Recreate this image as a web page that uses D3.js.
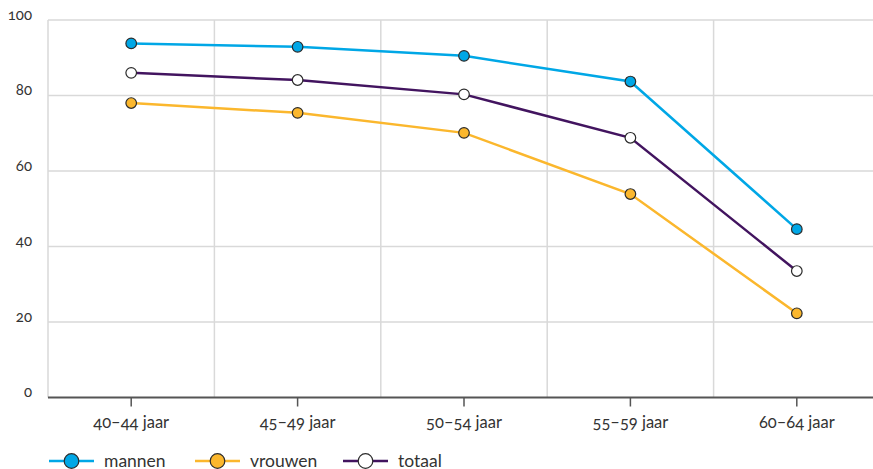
<!DOCTYPE html>
<html><head><meta charset="utf-8">
<script src="https://cdn.jsdelivr.net/npm/d3@7"></script>
<style>
body{margin:0;background:#fff;}
svg{display:block;font-family:Lato,"Open Sans",sans-serif;font-variant-numeric:oldstyle-nums;font-feature-settings:"onum" 1;}
</style></head><body>
<svg id="c" width="873" height="469"></svg>
<script>
const categories = ["40–44 jaar","45–49 jaar","50–54 jaar","55–59 jaar","60–64 jaar"];
const mannen  = [93.8, 92.9, 90.5, 83.7, 44.6];
const vrouwen = [78.0, 75.4, 70.1, 53.9, 22.3];
const totaal  = [86.0, 84.1, 80.3, 68.8, 33.5];
const yTicks = [0,20,40,60,80,100];
const seriesNames = ["mannen","vrouwen","totaal"];
const seriesColors = ["#00a7e6","#fbb72d","#42145f"];
const markerFills = ["#00a7e6","#fbb72d","#ffffff"];

const series = [mannen, vrouwen, totaal].map((v,i)=>({name:seriesNames[i],values:v,color:seriesColors[i],fill:markerFills[i]}));

const svg = d3.select("#c");
const L=48, R=880, T=20, B=397.5;
const x = d3.scaleBand().domain(categories).range([L,R]);
const y = d3.scaleLinear().domain([0,100]).range([B,T]);
const cx = d => x(d)+x.bandwidth()/2;

// horizontal grid
svg.append("g").selectAll("line").data(yTicks.filter(t=>t>0)).join("line")
  .attr("x1",L).attr("x2",873).attr("y1",d=>y(d)).attr("y2",d=>y(d))
  .attr("stroke","#d9d9d9").attr("stroke-width",1.5);
// vertical grid (band edges)
const edges = categories.map(c=>x(c));
svg.append("g").selectAll("line").data(edges).join("line")
  .attr("x1",d=>d).attr("x2",d=>d).attr("y1",T).attr("y2",B)
  .attr("stroke","#d9d9d9").attr("stroke-width",1.5);

// y labels
svg.append("g").selectAll("text").data(yTicks).join("text")
  .attr("x",32).attr("y",d=>y(d)-0.5).attr("text-anchor","end")
  .attr("font-size",15).attr("fill","#333").text(d=>d);

// x axis
const xa = svg.append("g").attr("transform",`translate(0,${B})`)
  .call(d3.axisBottom(x).tickSize(9).tickSizeOuter(0).tickPadding(10));
xa.select(".domain").attr("stroke","#555").attr("stroke-width",2).attr("d",`M${L},0H873`);
xa.selectAll(".tick line").attr("stroke","#555").attr("stroke-width",1.5);
xa.selectAll(".tick text").attr("font-size",16.5).attr("fill","#333").attr("font-family","Lato,sans-serif");

// lines
const line = d3.line().x((d,i)=>cx(categories[i])).y(d=>y(d));
series.forEach(s=>{
  svg.append("path").datum(s.values).attr("d",line).attr("fill","none")
    .attr("stroke",s.color).attr("stroke-width",2.5);
});
series.forEach(s=>{
  svg.append("g").selectAll("circle").data(s.values).join("circle")
    .attr("cx",(d,i)=>cx(categories[i])).attr("cy",d=>y(d)).attr("r",5.3)
    .attr("fill",s.fill).attr("stroke","#2b2b2b").attr("stroke-width",1.2);
});

// legend
const legX = [49,195,343];
const lg = svg.append("g");
series.forEach((s,i)=>{
  const g = lg.append("g").attr("transform",`translate(${legX[i]},461)`);
  g.append("line").attr("x1",0).attr("x2",45).attr("stroke",s.color).attr("stroke-width",2.5);
  g.append("circle").attr("cx",22.5).attr("r",7.3).attr("fill",s.fill).attr("stroke","#2b2b2b").attr("stroke-width",1.2);
  g.append("text").attr("x",55).attr("y",5.5).attr("font-size",17.5).attr("fill","#333").text(s.name);
});
</script></body></html>
